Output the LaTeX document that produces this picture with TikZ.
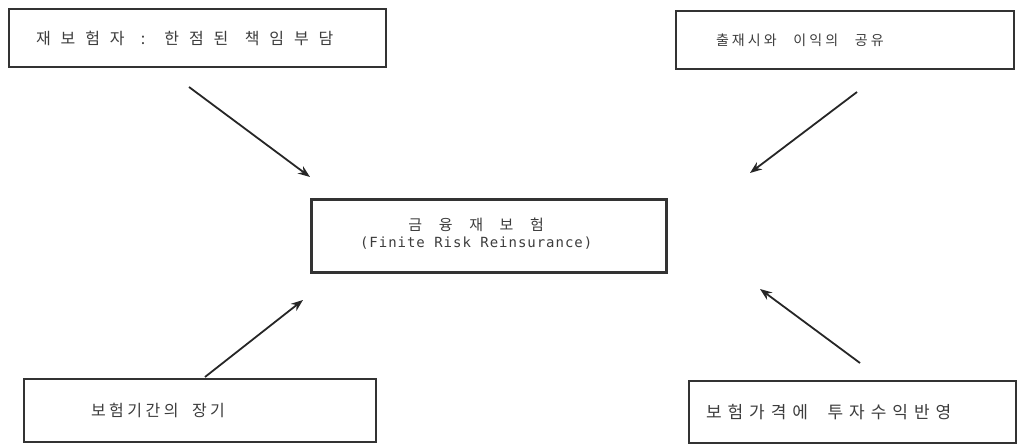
\documentclass[tikz,border=0pt]{standalone}
\usepackage{fontspec}
\setmainfont{Noto Sans CJK KR}
\newfontfamily\hangulwide[LetterSpace=62]{Noto Sans CJK KR}
\newfontfamily\hangulmid[LetterSpace=35]{Noto Sans CJK KR}
\newfontfamily\hangul[LetterSpace=22]{Noto Sans CJK KR}
\newfontfamily\latinmono[LetterSpace=7]{DejaVu Sans Mono}
\usetikzlibrary{positioning,arrows.meta}
\definecolor{boxline}{HTML}{333333}
\definecolor{boxtext}{HTML}{3C3C3C}
\newcommand{\gap}[1]{ \hspace{#1pt}}
\tikzset{
  every node/.style={text=boxtext, draw=boxline, line width=2pt, inner ysep=0pt},
  factor/.style={anchor=north west, align=left, minimum height=58pt, font=\hangul\fontsize{15}{18}\selectfont},
  pushes/.style={draw=black!85, line width=1.8pt, -{Stealth[length=12pt,width=9pt]}}
}

\begin{document}
\begin{tikzpicture}[x=1pt, y=1pt]
  \useasboundingbox (0,0) rectangle (1018,444);
  % Nodes
  \node (reinsurer) [factor, text width=323pt, inner xsep=27pt, font=\hangulwide\fontsize{16}{18}\selectfont] at (8,436) {재보험자\gap{11}:\gap{11}한점된\gap{11}책임부담};
  \node (profit) [factor, text width=258pt, inner xsep=40pt, font=\hangul\fontsize{14}{16}\selectfont] at (675,434) {출재시와\gap{12}이익의\gap{12}공유};
  \node (finite) [anchor=north west, minimum width=355pt, minimum height=73pt, line width=2.6pt, align=center] at (310,246) {
    \begin{tabular}{c}
      {\hangulmid\fontsize{15}{17}\selectfont 금\gap{8}융\gap{8}재\gap{8}보\gap{8}험}\\[3pt]
      {\latinmono\fontsize{14}{17}\selectfont (Finite Risk Reinsurance)}\rule[-6pt]{0pt}{0pt}
    \end{tabular}\hspace{23pt}
  };
  \node (term) [factor, minimum height=63pt, text width=218pt, inner xsep=67pt, font=\hangul\fontsize{16}{18}\selectfont] at (23,66) {보험기간의\gap{8}장기};
  \node (pricing) [factor, minimum height=62pt, text width=293pt, inner xsep=17pt, font=\hangulmid\fontsize{17}{19}\selectfont] at (688,64) {보험가격에\gap{14}투자수익반영};

  % Arrow ends
  \coordinate (reinsurerTail) at (189,357);
  \coordinate (reinsurerHead) at (310,267);
  \coordinate (profitTail) at (857,352);
  \coordinate (profitHead) at (750,271);
  \coordinate (termTail) at (205,67);
  \coordinate (termHead) at (303,144);
  \coordinate (pricingTail) at (860,81);
  \coordinate (pricingHead) at (760,155);

  \draw[pushes] (reinsurerTail) -- (reinsurerHead);
  \draw[pushes] (profitTail) -- (profitHead);
  \draw[pushes] (termTail) -- (termHead);
  \draw[pushes] (pricingTail) -- (pricingHead);
\end{tikzpicture}
\end{document}
